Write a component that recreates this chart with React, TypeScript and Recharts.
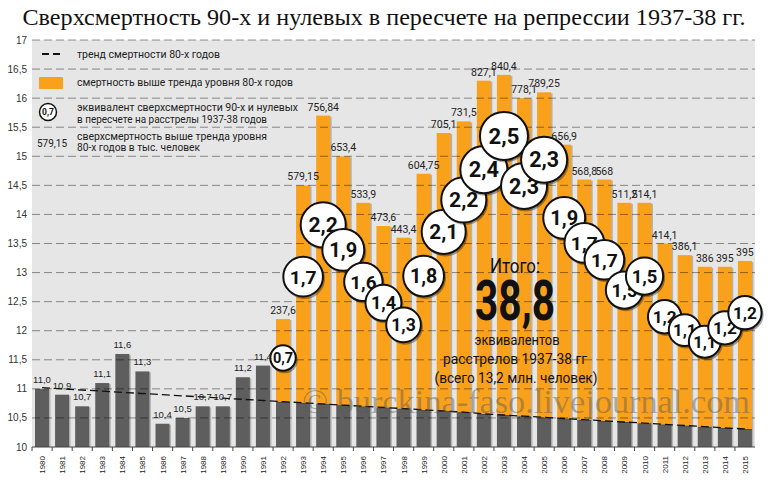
import React from "react";
import { ComposedChart, Bar, Line, XAxis, YAxis, CartesianGrid, ReferenceLine, LabelList } from "recharts";

const years = [
  1980, 1981, 1982, 1983, 1984, 1985, 1986, 1987, 1988, 1989, 1990, 1991,
  1992, 1993, 1994, 1995, 1996, 1997, 1998, 1999, 2000, 2001, 2002, 2003,
  2004, 2005, 2006, 2007, 2008, 2009, 2010, 2011, 2012, 2013, 2014, 2015,
];

// смертность на 1000, 1980-1991
const mortality80s = [11.0, 10.9, 10.7, 11.1, 11.6, 11.3, 10.4, 10.5, 10.7, 10.7, 11.2, 11.4];

// тренд 80-х, по годам 1980-2015
const trend80s = [
  11.02, 11.0, 10.98, 10.96, 10.94, 10.92, 10.9, 10.88, 10.86, 10.84, 10.82, 10.8,
  10.78, 10.76, 10.74, 10.72, 10.7, 10.68, 10.66, 10.64, 10.62, 10.6, 10.57, 10.55,
  10.53, 10.51, 10.49, 10.47, 10.45, 10.43, 10.41, 10.39, 10.37, 10.35, 10.33, 10.31,
];

// смертность на 1000, 1992-2015
const mortalityLater = [
  12.2, 14.5, 15.7, 15.0, 14.2, 13.8, 13.6, 14.7, 15.4, 15.6, 16.3, 16.4,
  16.0, 16.1, 15.2, 14.6, 14.6, 14.2, 14.2, 13.5, 13.3, 13.1, 13.1, 13.2,
];

// сверхсмертность, тыс. человек, 1992-2015
const excessThousands = [
  237.6, 579.15, 756.84, 653.4, 533.9, 473.6, 443.4, 604.75, 705.1, 731.5, 827.1, 840.4,
  778.1, 789.25, 656.9, 568.8, 568, 511.2, 514.1, 414.1, 386.1, 386, 395, 395,
];

// эквивалент расстрелов 1937-38, 1992-2015
const shootingEquivalent = [
  0.7, 1.7, 2.2, 1.9, 1.6, 1.4, 1.3, 1.8, 2.1, 2.2, 2.4, 2.5,
  2.3, 2.3, 1.9, 1.7, 1.7, 1.5, 1.5, 1.2, 1.1, 1.1, 1.2, 1.2,
];

// where each bubble sits on the y scale
const bubbleLevel = [
  11.53, 12.93, 13.82, 13.39, 12.84, 12.48, 12.1, 12.94, 13.7, 14.25, 14.77, 15.35,
  14.49, 14.94, 13.94, 13.51, 13.22, 12.7, 12.94, 12.24, 12.01, 11.81, 12.05, 12.31,
];

const yTicks = [10, 10.5, 11, 11.5, 12, 12.5, 13, 13.5, 14, 14.5, 15, 15.5, 16, 16.5, 17];

const colours = {
  grey: "#5e5e5e",
  orange: "#f9a11b",
  back: "#e6e6e6",
  text: "#222",
};

const split = 12;
const data = years.map((year, i) => {
  const j = i - split;
  const later = j >= 0;
  return {
    year,
    base: later ? trend80s[i] : mortality80s[i],
    excess: later ? +(mortalityLater[j] - trend80s[i]).toFixed(3) : null,
    trend: trend80s[i],
    baseLabel: later ? null : mortality80s[i],
    excessLabel: later ? excessThousands[j] : null,
    bubble: later ? bubbleLevel[j] : null,
    bubbleValue: later ? shootingEquivalent[j] : null,
  };
});

const comma = (v) => String(v).replace(".", ",");
const narrow = "Roboto, 'Noto Sans', sans-serif";

const YearTick = ({ x, y, payload }) => (
  <g transform={`translate(${x},${y})`}>
    <line x1={-10} x2={-10} y1={-8} y2={-4} stroke="#444" />
    <text transform="rotate(-90)" textAnchor="end" x={-1} y={3} fontSize={8} fill="#222" fontFamily="'Liberation Sans', Arial">
      {payload.value}
    </text>
  </g>
);

// bar with a soft shadow on its right side
const ShadowBar = (props) => {
  const { x, y, width, height, fill } = props;
  if (!height || height <= 0) return <g />;
  return (
    <g>
      <rect x={x + 1.5} y={y + 1} width={width} height={height} fill="rgba(0,0,0,0.22)" />
      <rect x={x} y={y} width={width} height={height} fill={fill} />
    </g>
  );
};

const Bubble = (props) => {
  const { cx, cy, payload } = props;
  if (cy == null || payload == null || payload.bubbleValue == null) return <g />;
  const v = payload.bubbleValue;
  const r = 15.2 * Math.sqrt(v);
  return (
    <g>
      <circle cx={cx + 1.5} cy={cy + 2} r={r + 0.5} fill="rgba(0,0,0,0.35)" />
      <circle cx={cx} cy={cy} r={r} fill="#fff" stroke="#111" strokeWidth={2} />
      <text x={cx} y={cy} dy="0.36em" textAnchor="middle" fontSize={6 + 0.67 * r} fontWeight="bold" fontFamily={narrow} fill="#111">
        {comma(v.toFixed(1))}
      </text>
    </g>
  );
};

const BaseLabel = ({ x, y, width, value }) => {
  if (value == null) return null;
  return (
    <text x={x + width / 2} y={y - 6} textAnchor="middle" fontSize={9.5} fill={colours.text} fontFamily="'Liberation Sans', Arial">
      {comma(value.toFixed(1))}
    </text>
  );
};

const ExcessLabel = ({ x, y, width, value }) => {
  if (value == null) return null;
  return (
    <text x={x + width / 2} y={y - 5} textAnchor="middle" fontSize={10.5} fill={colours.text} fontFamily={narrow}>
      {comma(value)}
    </text>
  );
};

const Overlay = () => (
  <svg width={768} height={482} style={{ position: "absolute", left: 0, top: 0, pointerEvents: "none" }}>
    <text x={384} y={25} textAnchor="middle" fontSize={23} fontFamily="'Liberation Serif', serif" fill="#111" textLength={723} lengthAdjust="spacingAndGlyphs">
      Сверхсмертность 90-х и нулевых в пересчете на репрессии 1937-38 гг.
    </text>

    <g fontFamily={narrow} fontSize={11} fill="#222">
      <line x1={42} x2={62} y1={54} y2={54} stroke="#111" strokeWidth={2} strokeDasharray="7 4" />
      <text x={77} y={58} textLength={143} lengthAdjust="spacingAndGlyphs">тренд смертности 80-х годов</text>
      <rect x={39} y={77} width={24} height={12} rx={1} fill={colours.orange} />
      <text x={77} y={86} textLength={216} lengthAdjust="spacingAndGlyphs">смертность выше тренда уровня 80-х годов</text>
      <circle cx={48} cy={112} r={8.5} fill="#fff" stroke="#111" strokeWidth={1.5} />
      <text x={48} y={112} dy="0.35em" textAnchor="middle" fontSize={8.5} fontWeight="bold" fill="#111">0,7</text>
      <text x={77} y={111} textLength={221} lengthAdjust="spacingAndGlyphs">эквивалент сверхсмертности 90-х и нулевых</text>
      <text x={77} y={123} textLength={190} lengthAdjust="spacingAndGlyphs">в пересчете на расстрелы 1937-38 годов</text>
      <text x={37} y={147} textLength={30} lengthAdjust="spacingAndGlyphs">579,15</text>
      <text x={77} y={140} textLength={190} lengthAdjust="spacingAndGlyphs">сверхсмертность выше тренда уровня</text>
      <text x={77} y={151} textLength={123} lengthAdjust="spacingAndGlyphs">80-х годов в тыс. человек</text>
    </g>

    <text x={302} y={413} fontSize={34} fontFamily="'Liberation Serif', serif" fill="rgba(90,90,90,0.45)" textLength={448} lengthAdjust="spacingAndGlyphs">
      © burckina-faso.livejournal.com
    </text>

    <g fontFamily={narrow} fill="#111" textAnchor="middle">
      <text x={515} y={273} fontSize={20} textLength={50} lengthAdjust="spacingAndGlyphs">Итого:</text>
      <text x={515} y={320} fontSize={56} fontWeight="bold" textLength={80} lengthAdjust="spacingAndGlyphs">38,8</text>
      <text x={517} y={345} fontSize={15} textLength={85} lengthAdjust="spacingAndGlyphs">эквивалентов</text>
      <text x={515} y={364} fontSize={15} textLength={144} lengthAdjust="spacingAndGlyphs">расстрелов 1937-38 гг</text>
      <text x={516} y={383} fontSize={15} textLength={163} lengthAdjust="spacingAndGlyphs">(всего 13,2 млн. человек)</text>
    </g>
  </svg>
);

export default function App() {
  return (
    <div style={{ position: "relative", width: 768, height: 482, background: "#fff" }}>
      <style>{"body{margin:0}"}</style>
      <ComposedChart width={768} height={482} data={data} margin={{ top: 40, right: 13, left: 0, bottom: 0 }} barSize={14}>
        <CartesianGrid fill={colours.back} horizontal={false} vertical={false} />
        <XAxis dataKey="year" interval={0} height={35} axisLine={{ stroke: "#444" }} tickLine={false} tick={<YearTick />} />
        <YAxis
          domain={[10, 17]}
          ticks={yTicks}
          allowDataOverflow
          width={32}
          axisLine={false}
          tickLine={false}
          tickSize={3}
          tickMargin={2}
          tick={{ fontSize: 10, fill: "#333", fontFamily: "'Liberation Sans', Arial" }}
          tickFormatter={comma}
        />
        {yTicks.slice(1).map((t) => (
          <ReferenceLine key={t} y={t} stroke="rgba(0,0,0,0.42)" strokeDasharray="8 4" />
        ))}
        <Bar dataKey="base" stackId="s" fill={colours.grey} shape={<ShadowBar />} isAnimationActive={false}>
          <LabelList dataKey="baseLabel" content={<BaseLabel />} />
        </Bar>
        <Bar dataKey="excess" stackId="s" fill={colours.orange} shape={<ShadowBar />} isAnimationActive={false}>
          <LabelList dataKey="excessLabel" content={<ExcessLabel />} />
        </Bar>
        <Line dataKey="trend" stroke="#111" strokeWidth={1.3} strokeDasharray="8 4" dot={false} isAnimationActive={false} />
        <Line dataKey="bubble" stroke="none" dot={<Bubble />} activeDot={false} isAnimationActive={false} />
      </ComposedChart>
      <Overlay />
    </div>
  );
}
